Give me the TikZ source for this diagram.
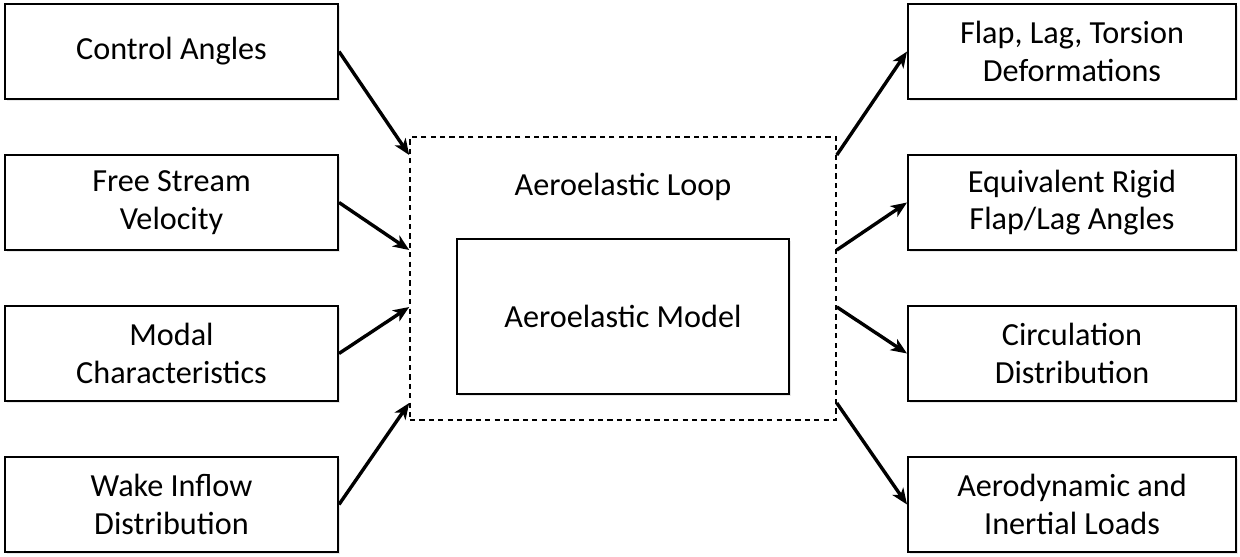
\documentclass[tikz,border=0pt]{standalone}
\usepackage{fontspec}
\setmainfont{Carlito}
\usetikzlibrary{arrows.meta,shadows,calc}
\begin{document}
\begin{tikzpicture}[x=0.5pt,y=-0.5pt,
  box/.style={draw=black, line width=1pt, fill=white, align=center,
    font=\fontsize{16.1}{18.8}\selectfont, inner sep=0pt,
    drop shadow={opacity=0.18, shadow xshift=0.9pt, shadow yshift=-1.1pt}},
  sidebox/.style={box, minimum width=166.5pt, minimum height=47.5pt},
  rbox/.style={box, minimum width=164pt, minimum height=47.5pt},
  loopbox/.style={draw=black, line width=0.8pt, dash pattern=on 2.6pt off 2.1pt, minimum width=213pt, minimum height=141.5pt, inner sep=0pt},
  lbl/.style={font=\fontsize{16.1}{18.8}\selectfont},
  arr/.style={line width=1.7pt, -{Stealth[length=8pt, width=6.5pt, inset=2.2pt]}}
]
\useasboundingbox (0,0) rectangle (1240,556);

\node[loopbox] (loop) at (623,278.5) {};
\node[box, minimum width=166pt, minimum height=77.5pt] (model) at (623,316.5) {Aeroelastic Model};
\node[lbl, anchor=base] (looplbl) at (623,195) {Aeroelastic Loop};

\node[sidebox] (ca) at (171.5,51.5) {Control Angles};
\node[sidebox] (fs) at (171.5,202.5) {Free Stream\\Velocity};
\node[sidebox] (mc) at (171.5,353.5) {Modal\\Characteristics};
\node[sidebox] (wi) at (171.5,504.5) {Wake Inflow\\Distribution};

\node[rbox] (fl) at (1072,51.5) {Flap, Lag, Torsion\\Deformations};
\node[rbox] (er) at (1072,202.5) {Equivalent Rigid\\Flap/Lag Angles};
\node[rbox] (cd) at (1072,353.5) {Circulation\\Distribution};
\node[rbox] (al) at (1072,504.5) {Aerodynamic and\\Inertial Loads};

\draw[arr] (ca.east) -- ([yshift=61.75pt]loop.west);
\draw[arr] (fs.east) -- ([yshift=14.25pt]loop.west);
\draw[arr] (mc.east) -- ([yshift=-14.25pt]loop.west);
\draw[arr] (wi.east) -- ([yshift=-62.25pt]loop.west);

\draw[arr] ([yshift=61.75pt]loop.east) -- (fl.west);
\draw[arr] ([yshift=14.25pt]loop.east) -- (er.west);
\draw[arr] ([yshift=-14.25pt]loop.east) -- (cd.west);
\draw[arr] ([yshift=-62.25pt]loop.east) -- (al.west);
\end{tikzpicture}
\end{document}
